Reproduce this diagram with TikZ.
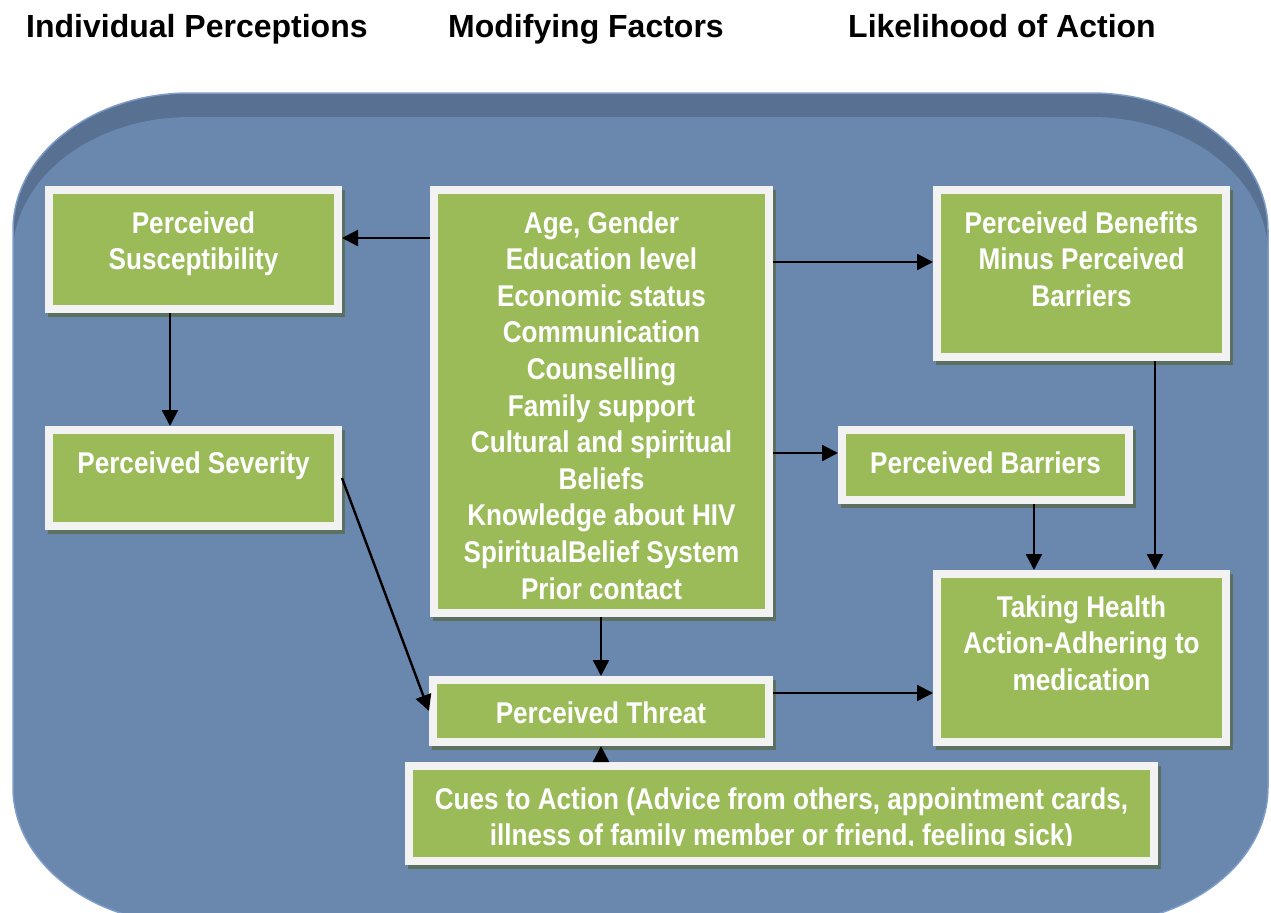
\documentclass[tikz,border=0pt]{standalone}
\usepackage{fontspec}
\setmainfont{Liberation Sans}
\newfontfamily\boxfont[FakeStretch=0.87]{Liberation Sans}
\usetikzlibrary{arrows.meta,calc}
\definecolor{bglight}{RGB}{106,135,173}
\definecolor{bgdark}{RGB}{88,112,145}
\definecolor{bgedge}{RGB}{126,156,200}
\definecolor{boxgreen}{RGB}{155,187,89}
\definecolor{boxwhite}{RGB}{242,242,242}
\definecolor{shadowc}{RGB}{92,112,98}
\tikzset{
  box/.style={fill=boxgreen, draw=boxwhite, line width=8bp, inner sep=0pt, text=white,
    preaction={draw=shadowc, fill=shadowc, line width=8bp, transform canvas={xshift=3bp,yshift=-4bp}}},
  arr/.style={draw=black, line width=2.4bp, -{Triangle[length=16bp,width=16bp]}},
  hdr/.style={anchor=base west, inner sep=0pt, text=black, font=\fontsize{32bp}{38bp}\selectfont\bfseries},
}
\newcommand\boxtext[3]{\parbox[c][#2bp][t]{#1bp}{\centering\boxfont\bfseries\fontsize{30bp}{36.6bp}\selectfont\rule{0pt}{43bp}#3\par}}
\newcommand\silhouette{(190,93) -- (1091,93) arc[start angle=270,end angle=360,x radius=177,y radius=137] -- (1268,787) arc[start angle=0,end angle=90,x radius=177,y radius=137] -- (190,924) arc[start angle=90,end angle=180,x radius=177,y radius=137] -- (13,230) arc[start angle=180,end angle=270,x radius=177,y radius=137] -- cycle}
\begin{document}
\begin{tikzpicture}[x=1bp,y=-1bp]
\useasboundingbox (0,0) rectangle (1271,913);
% background panel
\fill[bgdark] \silhouette;
\begin{scope}
  \clip \silhouette;
  \begin{scope}[yshift=-24bp]
    \fill[bglight] \silhouette;
  \end{scope}
\end{scope}
\draw[bgedge, line width=1.5bp] \silhouette;

% headers
\node[hdr] (h1) at (26,37) {Individual Perceptions};
\node[hdr] (h2) at (448,37) {Modifying Factors};
\node[hdr] (h3) at (848,37) {Likelihood of Action};

% boxes
\node[box] (sus) at (193.5,249.5) {\boxtext{289}{119}{Perceived\\Susceptibility}};
\node[box] (mod) at (601.5,401.5) {\boxtext{335}{423}{Age, Gender\\Education level\\Economic status\\Communication\\Counselling\\Family support\\Cultural and spiritual\\Beliefs\\Knowledge about HIV\\SpiritualBelief System\\Prior contact}};
\node[box] (ben) at (1081.5,273.5) {\boxtext{289}{167}{Perceived Benefits\\Minus Perceived\\Barriers}};
\node[box] (sev) at (193.5,478) {\boxtext{289}{96}{Perceived Severity}};
\node[box] (bar) at (985.5,465) {\boxtext{287}{70}{Perceived Barriers}};
\node[box] (tak) at (1081.5,658) {\boxtext{289}{168}{Taking Health\\Action-Adhering to\\medication}};
\node[box] (thr) at (601,711) {\boxtext{336}{62}{Perceived Threat}};
\node[box] (cues) at (781.5,813.5) {\boxtext{745}{95}{Cues to Action (Advice from others, appointment cards,\\illness of family member or friend, feeling sick)}};
% cut-off lower edge of the cues text
\fill[boxgreen] ([shift={(8,-19)}]cues.south west) rectangle ([shift={(-8,-8)}]cues.south east);

% connector levels
\coordinate (ya) at (0,238);
\coordinate (yb) at (0,262);
\coordinate (yc) at (0,453);
\coordinate (yd) at (0,693);
\coordinate (xa) at (170,0);
\coordinate (xb) at (1034,0);
\coordinate (xc) at (1155,0);

% connectors
\draw[arr] (mod.west |- ya) -- (sus.east |- ya);
\draw[arr] (mod.east |- yb) -- (ben.west |- yb);
\draw[arr] (mod.east |- yc) -- (bar.west |- yc);
\draw[arr] (sus.south -| xa) -- (sev.north -| xa);
\draw[arr] (sev.east) -- (thr.west);
\draw[arr] (mod.south -| thr.north) -- (thr.north);
\draw[arr] (cues.north -| thr.south) -- (thr.south);
\draw[arr] (thr.east |- yd) -- (tak.west |- yd);
\draw[arr] (bar.south -| xb) -- (tak.north -| xb);
\draw[arr] (ben.south -| xc) -- (tak.north -| xc);
\end{tikzpicture}
\end{document}
